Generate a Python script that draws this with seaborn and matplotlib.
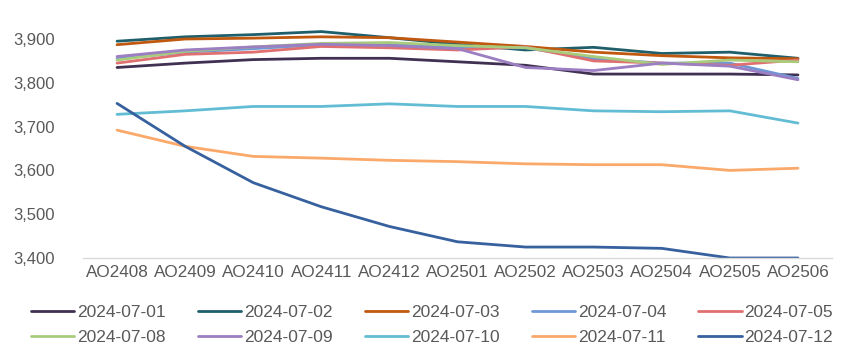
import matplotlib
matplotlib.use("Agg")
import matplotlib.pyplot as plt
import pandas as pd
import seaborn as sns

contracts = ["AO2408", "AO2409", "AO2410", "AO2411", "AO2412", "AO2501",
             "AO2502", "AO2503", "AO2504", "AO2505", "AO2506"]
dates = ["2024-07-01", "2024-07-02", "2024-07-03", "2024-07-04", "2024-07-05",
         "2024-07-08", "2024-07-09", "2024-07-10", "2024-07-11", "2024-07-12"]

d0701 = [3835, 3845, 3853, 3856, 3856, 3848, 3840, 3820, 3820, 3820, 3818]
d0702 = [3895, 3905, 3910, 3917, 3903, 3888, 3875, 3881, 3867, 3870, 3856]
d0703 = [3887, 3900, 3902, 3905, 3903, 3893, 3883, 3870, 3862, 3857, 3855]
d0704 = [3855, 3870, 3878, 3887, 3888, 3880, 3880, 3855, 3845, 3845, 3810]
d0705 = [3845, 3865, 3870, 3883, 3880, 3875, 3882, 3850, 3845, 3840, 3852]
d0708 = [3852, 3872, 3882, 3890, 3892, 3885, 3880, 3860, 3842, 3852, 3848]
d0709 = [3860, 3875, 3882, 3888, 3885, 3878, 3835, 3828, 3845, 3838, 3807]
d0710 = [3728, 3736, 3746, 3746, 3752, 3746, 3746, 3736, 3734, 3736, 3708]
d0711 = [3692, 3655, 3632, 3628, 3623, 3620, 3615, 3613, 3613, 3600, 3605]
d0712 = [3753, 3655, 3572, 3517, 3472, 3437, 3425, 3425, 3422, 3400, 3400]

series = [d0701, d0702, d0703, d0704, d0705, d0708, d0709, d0710, d0711, d0712]
colors = ["#403152", "#1f5f6b", "#c0580f", "#6f97d6", "#e07070",
          "#a9cc7c", "#9b7fc2", "#62bcd4", "#fba96a", "#36609e"]

rows = []
for d, vals in zip(dates, series):
    for c, v in zip(contracts, vals):
        rows.append({"contract": c, "date": d, "price": v})
df = pd.DataFrame(rows)

sns.set_style("white")
plt.rcParams["font.family"] = ["Liberation Sans", "DejaVu Sans"]

W, H = 854, 362
fig = plt.figure(figsize=(W / 100, H / 100), dpi=100)
ax = fig.add_axes([83 / W, 1 - 258 / H, (832 - 83) / W, (258 - 21.5) / H])

sns.lineplot(data=df, x="contract", y="price", hue="date", palette=colors,
             linewidth=2, sort=False, ax=ax, legend=True)

ax.set_xlim(-0.5, len(contracts) - 0.5)
ax.set_ylim(3400, 3940)
ax.set_yticks([3400, 3500, 3600, 3700, 3800, 3900])
ax.set_yticklabels([f"{v:,}" for v in [3400, 3500, 3600, 3700, 3800, 3900]])
ax.set_xlabel("")
ax.set_ylabel("")

for s in ["top", "right", "left"]:
    ax.spines[s].set_visible(False)
ax.spines["bottom"].set_color("#d9d9d9")
ax.spines["bottom"].set_linewidth(1)

ax.set_xticks(range(len(contracts)))
ax.set_xticklabels(contracts)
ax.set_xticks([i - 0.5 for i in range(len(contracts) + 1)], minor=True)
ax.tick_params(axis="x", which="major", length=0, pad=5, labelsize=12.3, labelcolor="#595959")
ax.tick_params(axis="x", which="minor", length=5, color="#d9d9d9", width=1)
ax.tick_params(axis="y", length=0, pad=20, labelsize=12, labelcolor="#595959")

handles, labels = ax.get_legend_handles_labels()
ax.get_legend().remove()
order = [0, 5, 1, 6, 2, 7, 3, 8, 4, 9]
leg = fig.legend([handles[i] for i in order], [labels[i] for i in order],
                 ncol=5, loc="upper left", mode="expand",
                 bbox_to_anchor=(24 / W, 1 - 302 / H, (840 - 24) / W, 0.01),
                 frameon=False, fontsize=12.5, handlelength=2.5, handletextpad=0.15,
                 labelspacing=0.55, borderaxespad=0)
for t in leg.get_texts():
    t.set_color("#595959")

plt.savefig("out.png", dpi=100)
